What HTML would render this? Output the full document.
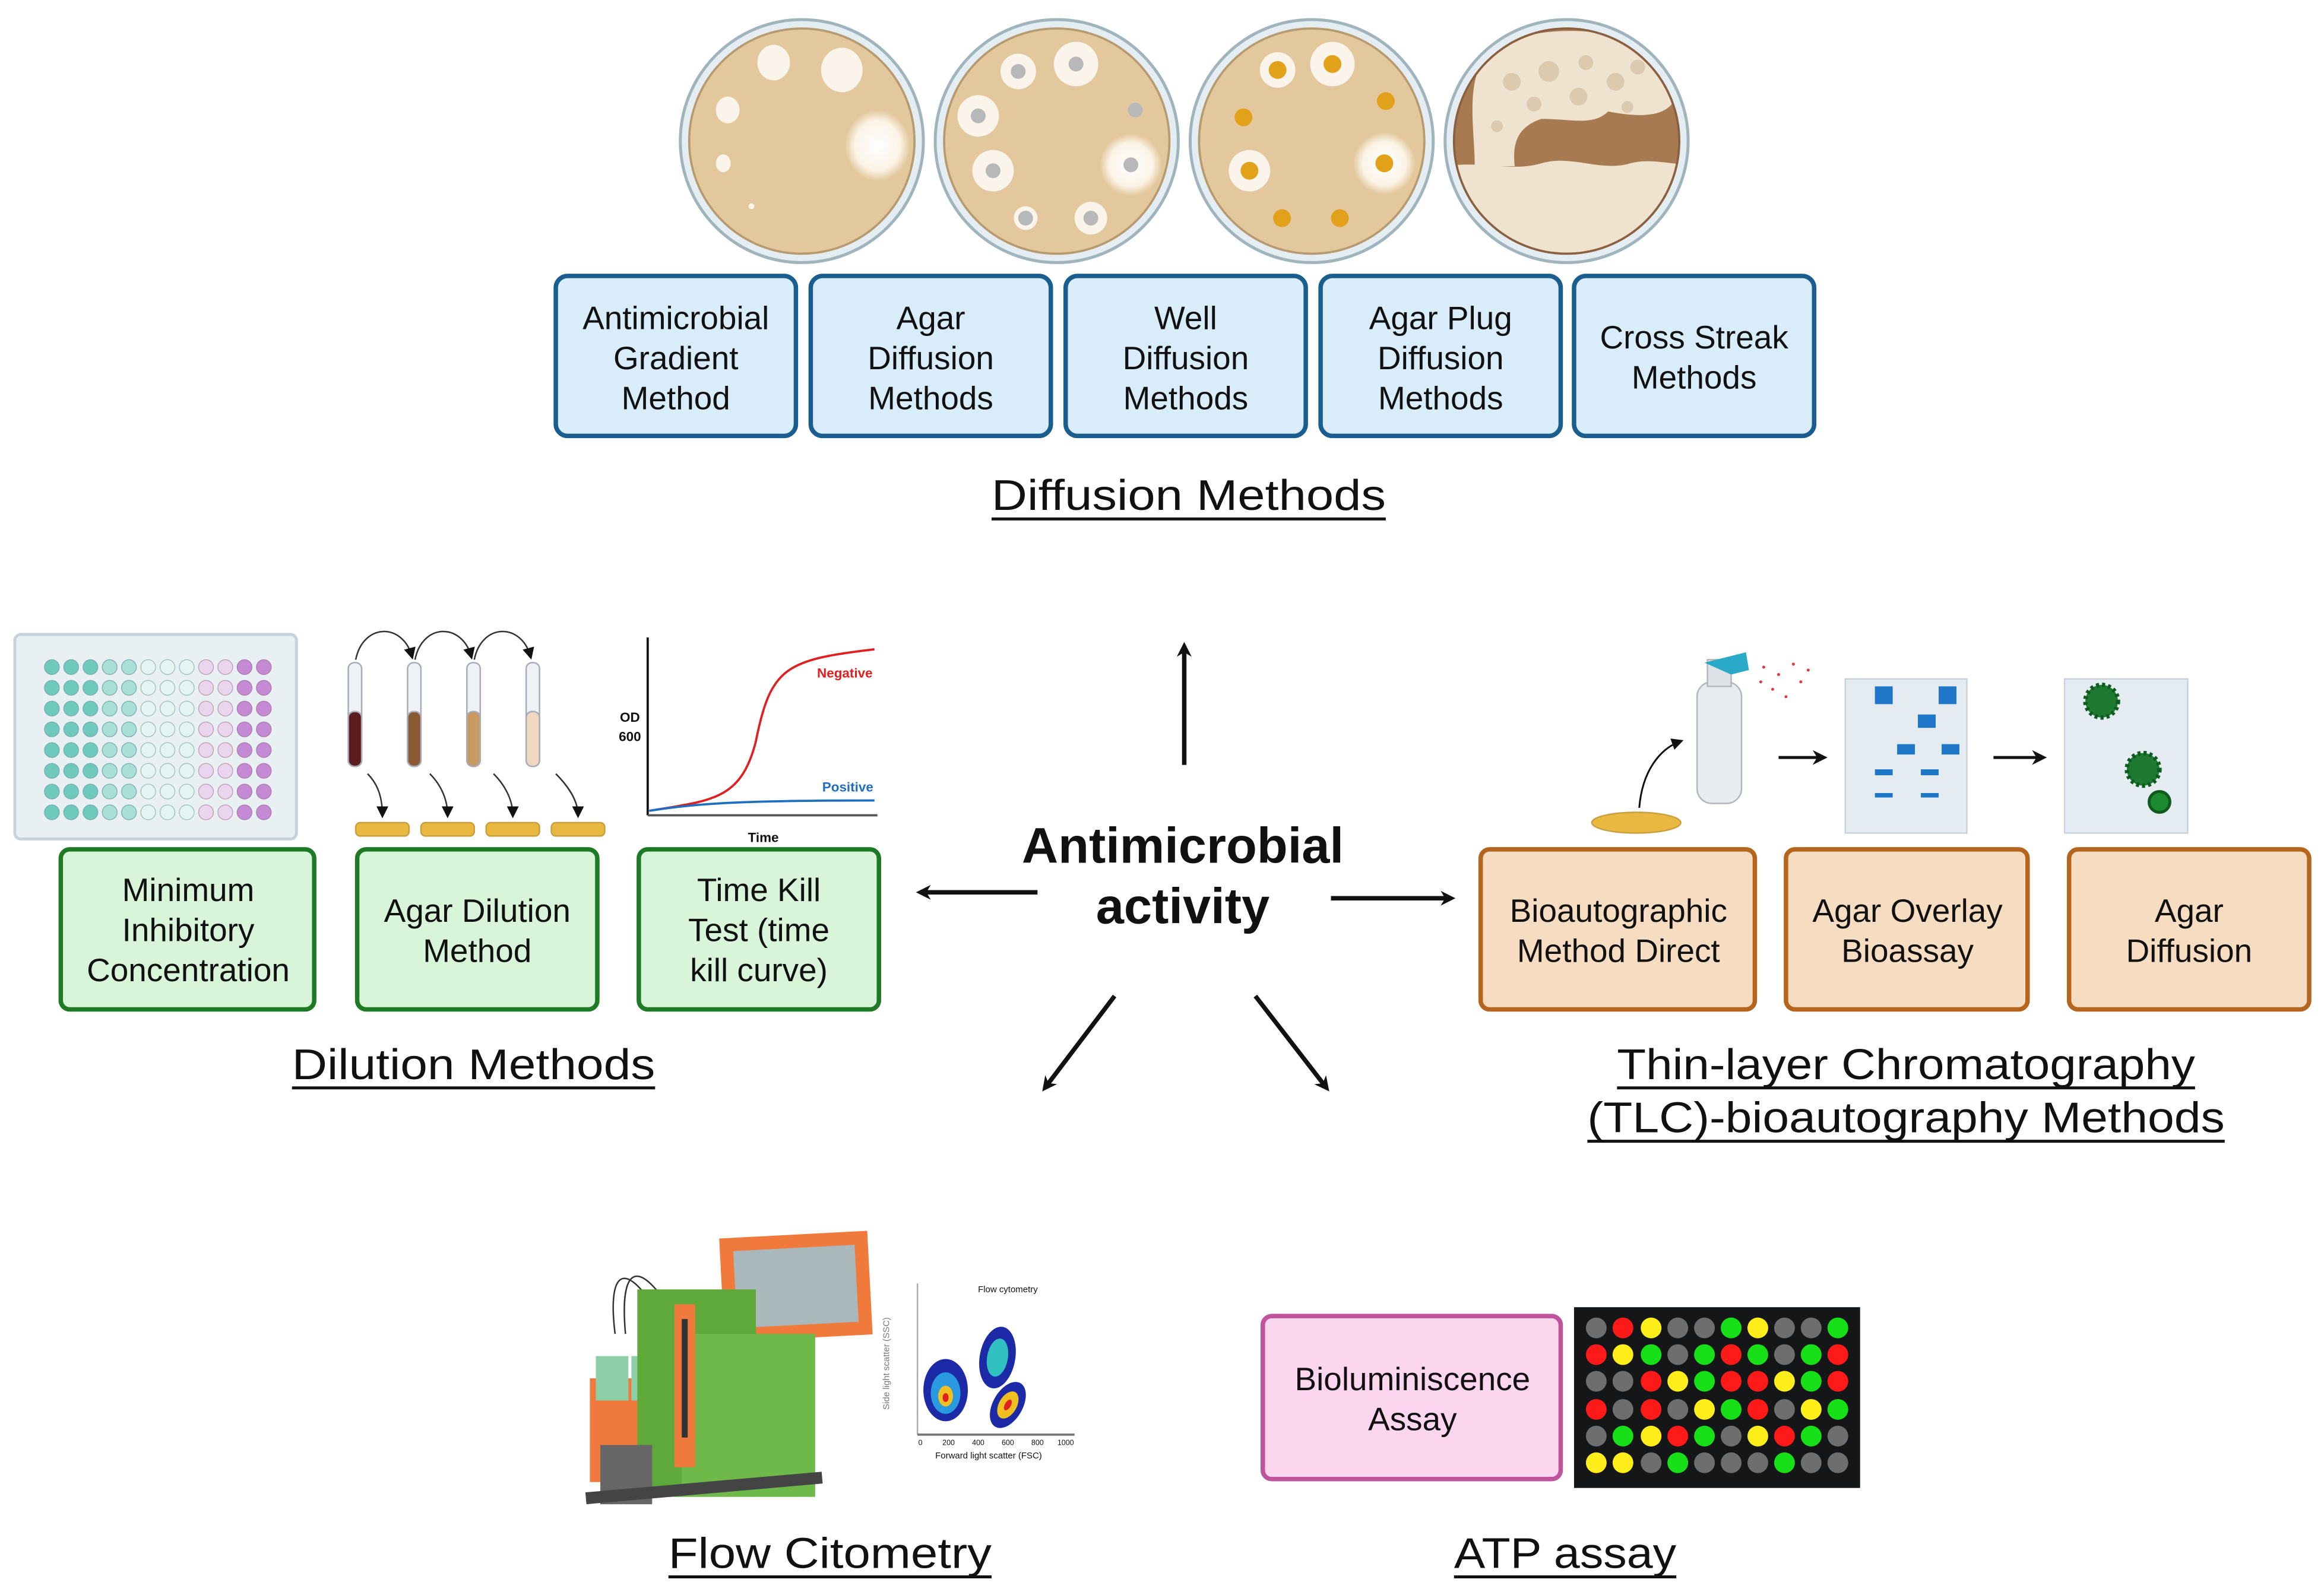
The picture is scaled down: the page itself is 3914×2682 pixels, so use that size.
<!DOCTYPE html>
<html><head><meta charset="utf-8"><style>
html,body{margin:0;padding:0;background:#fff;}
svg{display:block;}
text{font-family:"Liberation Sans",sans-serif;fill:#111;}
</style></head><body>
<svg width="3914" height="2682" viewBox="0 0 1568 1074" xmlns="http://www.w3.org/2000/svg">
<defs>
<marker id="ah" markerWidth="10" markerHeight="10" refX="7" refY="5" orient="auto" markerUnits="userSpaceOnUse"><path d="M0,0 L10,5 L0,10 L3,5 z" fill="#111"/></marker>
<marker id="ahs" markerWidth="8" markerHeight="8" refX="6" refY="4" orient="auto" markerUnits="userSpaceOnUse"><path d="M0,0 L8,4 L0,8 z" fill="#111"/></marker>
<radialGradient id="halo"><stop offset="0" stop-color="#fff"/><stop offset="0.7" stop-color="#fbf3e6"/><stop offset="1" stop-color="#e3c89d"/></radialGradient>
</defs>

<!-- Petri dishes -->
<g>
<circle cx="541" cy="95" r="82" fill="#e4eef2" stroke="#9fb4bd" stroke-width="2"/>
<circle cx="541" cy="95" r="76" fill="#e3c89d" stroke="#b89a70" stroke-width="1.5"/>
<ellipse cx="522" cy="42" rx="11" ry="12" fill="#fbf4ea"/><ellipse cx="568" cy="47" rx="14" ry="15" fill="#fbf4ea"/>
<ellipse cx="491" cy="74" rx="8" ry="9" fill="#fbf4ea"/><ellipse cx="592" cy="98" rx="22" ry="24" fill="url(#halo)"/>
<ellipse cx="488" cy="110" rx="5" ry="6" fill="#fbf4ea"/><circle cx="507" cy="139" r="2" fill="#fbf4ea"/>

<circle cx="713" cy="95" r="82" fill="#e4eef2" stroke="#9fb4bd" stroke-width="2"/>
<circle cx="713" cy="95" r="76" fill="#e3c89d" stroke="#b89a70" stroke-width="1.5"/>
<circle cx="687" cy="48" r="12" fill="#fbf4ea"/><circle cx="687" cy="48" r="5" fill="#b8b8b8"/>
<circle cx="726" cy="43" r="15" fill="#fbf4ea"/><circle cx="726" cy="43" r="5" fill="#b8b8b8"/>
<circle cx="660" cy="78" r="14" fill="#fbf4ea"/><circle cx="660" cy="78" r="5" fill="#b8b8b8"/>
<circle cx="766" cy="74" r="5" fill="#b8b8b8"/>
<circle cx="670" cy="115" r="14" fill="#fbf4ea"/><circle cx="670" cy="115" r="5" fill="#b8b8b8"/>
<circle cx="763" cy="111" r="21" fill="url(#halo)"/><circle cx="763" cy="111" r="5" fill="#b8b8b8"/>
<circle cx="692" cy="147" r="8" fill="#fbf4ea"/><circle cx="692" cy="147" r="5" fill="#b8b8b8"/>
<circle cx="736" cy="147" r="11" fill="#fbf4ea"/><circle cx="736" cy="147" r="5" fill="#b8b8b8"/>

<circle cx="885" cy="95" r="82" fill="#e4eef2" stroke="#9fb4bd" stroke-width="2"/>
<circle cx="885" cy="95" r="76" fill="#e3c89d" stroke="#b89a70" stroke-width="1.5"/>
<circle cx="862" cy="47" r="12" fill="#fbf4ea"/><circle cx="862" cy="47" r="6" fill="#e2a11a"/>
<circle cx="899" cy="43" r="15" fill="#fbf4ea"/><circle cx="899" cy="43" r="6" fill="#e2a11a"/>
<circle cx="935" cy="68" r="6" fill="#e2a11a"/><circle cx="839" cy="79" r="6" fill="#e2a11a"/>
<circle cx="843" cy="115" r="14" fill="#fbf4ea"/><circle cx="843" cy="115" r="6" fill="#e2a11a"/>
<circle cx="934" cy="110" r="21" fill="url(#halo)"/><circle cx="934" cy="110" r="6" fill="#e2a11a"/>
<circle cx="865" cy="147" r="6" fill="#e2a11a"/><circle cx="904" cy="147" r="6" fill="#e2a11a"/>

<circle cx="1057" cy="95" r="82" fill="#e4eef2" stroke="#9fb4bd" stroke-width="2"/>
<clipPath id="cd"><circle cx="1057" cy="95" r="76"/></clipPath>
<circle cx="1057" cy="95" r="76" fill="#a87a52"/>
<g clip-path="url(#cd)" fill="#efe3d0">
<path d="M975,112 C1000,108 1020,116 1040,110 C1060,104 1080,116 1100,110 C1115,106 1130,112 1140,110 L1140,180 L975,180 z"/>
<path d="M998,45 C1010,22 1050,18 1080,22 C1110,26 1130,45 1128,70 C1120,80 1100,78 1085,75 C1075,85 1060,80 1040,80 C1025,85 1020,95 1022,112 L995,112 C995,90 990,65 998,45 z"/>
</g>
<g fill="#dccab0"><circle cx="1020" cy="55" r="6"/><circle cx="1045" cy="48" r="7"/><circle cx="1070" cy="42" r="5"/><circle cx="1090" cy="55" r="6"/><circle cx="1105" cy="45" r="5"/><circle cx="1035" cy="70" r="5"/><circle cx="1065" cy="65" r="6"/><circle cx="1098" cy="72" r="4"/><circle cx="1010" cy="85" r="4"/></g>
<circle cx="1057" cy="95" r="76" fill="none" stroke="#8a6040" stroke-width="1.5"/>
</g>

<!-- Diffusion boxes -->
<g fill="#d9ecf9" stroke="#1a5d8f" stroke-width="3">
<rect x="375" y="186" width="162" height="108" rx="8"/><rect x="547" y="186" width="162" height="108" rx="8"/>
<rect x="719" y="186" width="162" height="108" rx="8"/><rect x="891" y="186" width="162" height="108" rx="8"/>
<rect x="1062" y="186" width="162" height="108" rx="8"/>
</g>
<g font-size="22" text-anchor="middle">
<text x="456" y="222">Antimicrobial</text><text x="456" y="249">Gradient</text><text x="456" y="276">Method</text>
<text x="628" y="222">Agar</text><text x="628" y="249">Diffusion</text><text x="628" y="276">Methods</text>
<text x="800" y="222">Well</text><text x="800" y="249">Diffusion</text><text x="800" y="276">Methods</text>
<text x="972" y="222">Agar Plug</text><text x="972" y="249">Diffusion</text><text x="972" y="276">Methods</text>
<text x="1143" y="235">Cross Streak</text><text x="1143" y="262">Methods</text>
</g>
<text x="669" y="344" font-size="29" textLength="266" lengthAdjust="spacingAndGlyphs">Diffusion Methods</text>
<line x1="669" y1="350" x2="935" y2="350" stroke="#111" stroke-width="2"/>

<!-- well plate -->
<rect x="10" y="428" width="190" height="138" rx="4" fill="#e8f0f4" stroke="#c5d3da" stroke-width="2"/>
<g fill="#6fcabd" stroke="#7aa" stroke-width="0.5">
<circle cx="35" cy="450" r="5"/><circle cx="35" cy="464" r="5"/><circle cx="35" cy="478" r="5"/><circle cx="35" cy="492" r="5"/><circle cx="35" cy="506" r="5"/><circle cx="35" cy="520" r="5"/><circle cx="35" cy="534" r="5"/><circle cx="35" cy="548" r="5"/>
<circle cx="48" cy="450" r="5"/><circle cx="48" cy="464" r="5"/><circle cx="48" cy="478" r="5"/><circle cx="48" cy="492" r="5"/><circle cx="48" cy="506" r="5"/><circle cx="48" cy="520" r="5"/><circle cx="48" cy="534" r="5"/><circle cx="48" cy="548" r="5"/>
<circle cx="61" cy="450" r="5"/><circle cx="61" cy="464" r="5"/><circle cx="61" cy="478" r="5"/><circle cx="61" cy="492" r="5"/><circle cx="61" cy="506" r="5"/><circle cx="61" cy="520" r="5"/><circle cx="61" cy="534" r="5"/><circle cx="61" cy="548" r="5"/>
</g>
<g fill="#a8e0d8" stroke="#7aa" stroke-width="0.5">
<circle cx="74" cy="450" r="5"/><circle cx="74" cy="464" r="5"/><circle cx="74" cy="478" r="5"/><circle cx="74" cy="492" r="5"/><circle cx="74" cy="506" r="5"/><circle cx="74" cy="520" r="5"/><circle cx="74" cy="534" r="5"/><circle cx="74" cy="548" r="5"/>
<circle cx="87" cy="450" r="5"/><circle cx="87" cy="464" r="5"/><circle cx="87" cy="478" r="5"/><circle cx="87" cy="492" r="5"/><circle cx="87" cy="506" r="5"/><circle cx="87" cy="520" r="5"/><circle cx="87" cy="534" r="5"/><circle cx="87" cy="548" r="5"/>
</g>
<g fill="#e4f4f2" stroke="#9bb" stroke-width="0.5">
<circle cx="100" cy="450" r="5"/><circle cx="100" cy="464" r="5"/><circle cx="100" cy="478" r="5"/><circle cx="100" cy="492" r="5"/><circle cx="100" cy="506" r="5"/><circle cx="100" cy="520" r="5"/><circle cx="100" cy="534" r="5"/><circle cx="100" cy="548" r="5"/>
<circle cx="113" cy="450" r="5"/><circle cx="113" cy="464" r="5"/><circle cx="113" cy="478" r="5"/><circle cx="113" cy="492" r="5"/><circle cx="113" cy="506" r="5"/><circle cx="113" cy="520" r="5"/><circle cx="113" cy="534" r="5"/><circle cx="113" cy="548" r="5"/>
<circle cx="126" cy="450" r="5"/><circle cx="126" cy="464" r="5"/><circle cx="126" cy="478" r="5"/><circle cx="126" cy="492" r="5"/><circle cx="126" cy="506" r="5"/><circle cx="126" cy="520" r="5"/><circle cx="126" cy="534" r="5"/><circle cx="126" cy="548" r="5"/>
</g>
<g fill="#ead4ee" stroke="#b9a" stroke-width="0.5">
<circle cx="139" cy="450" r="5"/><circle cx="139" cy="464" r="5"/><circle cx="139" cy="478" r="5"/><circle cx="139" cy="492" r="5"/><circle cx="139" cy="506" r="5"/><circle cx="139" cy="520" r="5"/><circle cx="139" cy="534" r="5"/><circle cx="139" cy="548" r="5"/>
<circle cx="152" cy="450" r="5"/><circle cx="152" cy="464" r="5"/><circle cx="152" cy="478" r="5"/><circle cx="152" cy="492" r="5"/><circle cx="152" cy="506" r="5"/><circle cx="152" cy="520" r="5"/><circle cx="152" cy="534" r="5"/><circle cx="152" cy="548" r="5"/>
</g>
<g fill="#c58ad4" stroke="#a7a" stroke-width="0.5">
<circle cx="165" cy="450" r="5"/><circle cx="165" cy="464" r="5"/><circle cx="165" cy="478" r="5"/><circle cx="165" cy="492" r="5"/><circle cx="165" cy="506" r="5"/><circle cx="165" cy="520" r="5"/><circle cx="165" cy="534" r="5"/><circle cx="165" cy="548" r="5"/>
<circle cx="178" cy="450" r="5"/><circle cx="178" cy="464" r="5"/><circle cx="178" cy="478" r="5"/><circle cx="178" cy="492" r="5"/><circle cx="178" cy="506" r="5"/><circle cx="178" cy="520" r="5"/><circle cx="178" cy="534" r="5"/><circle cx="178" cy="548" r="5"/>
</g>

<!-- tubes -->
<g stroke="#aab" stroke-width="1">
<rect x="235" y="447" width="9" height="70" rx="4" fill="#eef2f4"/><rect x="235" y="480" width="9" height="37" rx="4" fill="#5a1c1c"/>
<rect x="275" y="447" width="9" height="70" rx="4" fill="#eef2f4"/><rect x="275" y="480" width="9" height="37" rx="4" fill="#8a5a32"/>
<rect x="315" y="447" width="9" height="70" rx="4" fill="#eef2f4"/><rect x="315" y="480" width="9" height="37" rx="4" fill="#c79a62"/>
<rect x="355" y="447" width="9" height="70" rx="4" fill="#eef2f4"/><rect x="355" y="480" width="9" height="37" rx="4" fill="#f0d8c0"/>
</g>
<g fill="none" stroke="#333" stroke-width="1">
<path d="M240,445 C245,420 272,420 278,443" marker-end="url(#ahs)"/><path d="M280,445 C285,420 312,420 318,443" marker-end="url(#ahs)"/><path d="M320,445 C325,420 352,420 358,443" marker-end="url(#ahs)"/>
<path d="M248,522 C256,530 258,540 258,550" marker-end="url(#ahs)"/><path d="M290,522 C298,530 302,540 302,550" marker-end="url(#ahs)"/><path d="M333,522 C341,530 346,540 346,550" marker-end="url(#ahs)"/><path d="M375,522 C383,530 390,540 390,550" marker-end="url(#ahs)"/>
</g>
<g fill="#e8b840" stroke="#c9a040" stroke-width="1">
<rect x="240" y="555" width="36" height="9" rx="3"/><rect x="284" y="555" width="36" height="9" rx="3"/><rect x="328" y="555" width="36" height="9" rx="3"/><rect x="372" y="555" width="36" height="9" rx="3"/>
</g>

<!-- time kill chart -->
<line x1="437" y1="430" x2="437" y2="550" stroke="#111" stroke-width="1.5"/>
<line x1="437" y1="550" x2="592" y2="550" stroke="#555" stroke-width="1.5"/>
<path d="M438,547 C480,540 500,540 510,500 C520,450 530,445 590,438" fill="none" stroke="#e02020" stroke-width="1.5"/>
<path d="M438,547 C470,542 500,540 590,540" fill="none" stroke="#1f6fc0" stroke-width="1.5"/>
<text x="570" y="457" font-size="9" text-anchor="middle" font-weight="bold" style="fill:#e02020">Negative</text>
<text x="572" y="534" font-size="9" text-anchor="middle" font-weight="bold" style="fill:#1f6fc0">Positive</text>
<text x="425" y="487" font-size="9" text-anchor="middle" font-weight="bold">OD</text>
<text x="425" y="500" font-size="9" text-anchor="middle" font-weight="bold">600</text>
<text x="515" y="568" font-size="9" text-anchor="middle" font-weight="bold">Time</text>

<!-- Dilution boxes -->
<g fill="#d8f5da" stroke="#1e7a25" stroke-width="3">
<rect x="41" y="573" width="171" height="108" rx="6"/><rect x="241" y="573" width="162" height="108" rx="6"/><rect x="431" y="573" width="162" height="108" rx="6"/>
</g>
<g font-size="22" text-anchor="middle">
<text x="127" y="608">Minimum</text><text x="127" y="635">Inhibitory</text><text x="127" y="662">Concentration</text>
<text x="322" y="622">Agar Dilution</text><text x="322" y="649">Method</text>
<text x="512" y="608">Time Kill</text><text x="512" y="635">Test (time</text><text x="512" y="662">kill curve)</text>
</g>
<text x="197" y="728" font-size="29" textLength="245" lengthAdjust="spacingAndGlyphs">Dilution Methods</text>
<line x1="197" y1="734" x2="442" y2="734" stroke="#111" stroke-width="2"/>

<!-- TLC images -->
<rect x="1145" y="460" width="30" height="82" rx="10" fill="#e8ecee" stroke="#b0b8bc"/>
<rect x="1152" y="445" width="16" height="18" fill="#dde3e6" stroke="#b0b8bc"/>
<path d="M1150,447 L1178,440 L1180,452 L1168,455" fill="#2aa8c8"/>
<g fill="#e03a3a"><circle cx="1190" cy="450" r="1"/><circle cx="1200" cy="455" r="1"/><circle cx="1210" cy="448" r="1"/><circle cx="1196" cy="465" r="1"/><circle cx="1215" cy="460" r="1"/><circle cx="1205" cy="470" r="1"/><circle cx="1220" cy="452" r="1"/><circle cx="1188" cy="460" r="1"/></g>
<path d="M1106,545 C1108,520 1120,505 1134,500" fill="none" stroke="#111" stroke-width="1.2" marker-end="url(#ahs)"/>
<ellipse cx="1104" cy="555" rx="30" ry="7" fill="#e8b840" stroke="#c9a040"/>
<line x1="1200" y1="511" x2="1230" y2="511" stroke="#111" stroke-width="2" marker-end="url(#ah)"/>
<line x1="1345" y1="511" x2="1378" y2="511" stroke="#111" stroke-width="2" marker-end="url(#ah)"/>
<rect x="1245" y="458" width="82" height="104" fill="#e4ecf2" stroke="#c6d2dc"/>
<g fill="#1f77c8"><rect x="1265" y="463" width="12" height="12"/><rect x="1308" y="463" width="12" height="12"/><rect x="1294" y="482" width="12" height="9"/><rect x="1280" y="502" width="12" height="7"/><rect x="1310" y="502" width="12" height="7"/><rect x="1265" y="519" width="12" height="4"/><rect x="1296" y="519" width="12" height="4"/><rect x="1265" y="535" width="12" height="3"/><rect x="1296" y="535" width="12" height="3"/></g>
<rect x="1393" y="458" width="83" height="104" fill="#e4ecf2" stroke="#c6d2dc"/>
<circle cx="1418" cy="473" r="11" fill="#1e7a30" stroke="#0f5a1f" stroke-width="3" stroke-dasharray="2 2"/>
<circle cx="1446" cy="519" r="11" fill="#1e7a30" stroke="#0f5a1f" stroke-width="3" stroke-dasharray="2 2"/>
<circle cx="1457" cy="541" r="7" fill="#1e8a30" stroke="#0f5a1f" stroke-width="2"/>

<!-- TLC boxes -->
<g fill="#f6dcc0" stroke="#b5651d" stroke-width="3">
<rect x="999" y="573" width="185" height="108" rx="6"/><rect x="1205" y="573" width="163" height="108" rx="6"/><rect x="1396" y="573" width="162" height="108" rx="6"/>
</g>
<g font-size="22" text-anchor="middle">
<text x="1092" y="622">Bioautographic</text><text x="1092" y="649">Method Direct</text>
<text x="1287" y="622">Agar Overlay</text><text x="1287" y="649">Bioassay</text>
<text x="1477" y="622">Agar</text><text x="1477" y="649">Diffusion</text>
</g>
<text x="1091" y="728" font-size="29" textLength="390" lengthAdjust="spacingAndGlyphs">Thin-layer Chromatography</text>
<line x1="1091" y1="734" x2="1481" y2="734" stroke="#111" stroke-width="2"/>
<text x="1071" y="764" font-size="29" textLength="430" lengthAdjust="spacingAndGlyphs">(TLC)-bioautography Methods</text>
<line x1="1071" y1="770" x2="1501" y2="770" stroke="#111" stroke-width="2"/>

<!-- Center -->
<text x="798" y="582" font-size="34" font-weight="bold" text-anchor="middle">Antimicrobial</text>
<text x="798" y="623" font-size="34" font-weight="bold" text-anchor="middle">activity</text>
<g stroke="#111" stroke-width="3" fill="none">
<line x1="799" y1="516" x2="799" y2="436" marker-end="url(#ah)"/>
<line x1="700" y1="602" x2="621" y2="602" marker-end="url(#ah)"/>
<line x1="898" y1="606" x2="979" y2="606" marker-end="url(#ah)"/>
<line x1="752" y1="672" x2="705" y2="734" marker-end="url(#ah)"/>
<line x1="847" y1="672" x2="895" y2="734" marker-end="url(#ah)"/>
</g>

<!-- Flow cytometer -->
<g>
<rect x="487" y="833" width="100" height="70" fill="#f07a3c" transform="rotate(-3 537 868)"/>
<rect x="496" y="842" width="82" height="52" fill="#aab8bc" transform="rotate(-3 537 868)"/>
<path d="M415,900 C410,860 420,850 440,880" fill="none" stroke="#333"/>
<path d="M422,900 C418,855 430,850 450,880" fill="none" stroke="#333"/>
<rect x="398" y="930" width="50" height="70" fill="#f07a3c"/>
<rect x="402" y="915" width="22" height="30" fill="#8fcfa8"/>
<rect x="426" y="915" width="22" height="30" fill="#8fcfa8"/>
<rect x="430" y="870" width="80" height="140" fill="#5fa83a"/>
<rect x="460" y="900" width="90" height="110" fill="#6fb84a"/>
<rect x="455" y="880" width="14" height="110" fill="#f07a3c"/>
<rect x="460" y="890" width="4" height="80" fill="#333"/>
<rect x="405" y="975" width="35" height="40" fill="#666"/>
<rect x="395" y="1000" width="160" height="8" fill="#444" transform="rotate(-5 475 1004)"/>
</g>
<!-- FC plot -->
<line x1="619" y1="866" x2="619" y2="968" stroke="#aaa"/>
<line x1="619" y1="968" x2="725" y2="968" stroke="#777" stroke-width="1.5"/>
<text x="680" y="872" font-size="6" text-anchor="middle">Flow cytometry</text>
<text x="667" y="984" font-size="6" text-anchor="middle">Forward light scatter (FSC)</text>
<text x="0" y="0" font-size="6" text-anchor="middle" transform="translate(600 920) rotate(-90)" style="fill:#777">Side light scatter (SSC)</text>
<g font-size="5" text-anchor="middle"><text x="621" y="975">0</text><text x="640" y="975">200</text><text x="660" y="975">400</text><text x="680" y="975">600</text><text x="700" y="975">800</text><text x="719" y="975">1000</text></g>
<ellipse cx="638" cy="938" rx="15" ry="21" fill="#1c2aa8"/><ellipse cx="638" cy="940" rx="10" ry="14" fill="#2a9ae0"/><ellipse cx="638" cy="942" rx="5" ry="7" fill="#f0c020"/><ellipse cx="638" cy="943" rx="2" ry="3" fill="#e02020"/>
<ellipse cx="673" cy="916" rx="12" ry="21" fill="#1c2aa8" transform="rotate(10 673 916)"/><ellipse cx="673" cy="916" rx="7" ry="13" fill="#30c0c0" transform="rotate(10 673 916)"/>
<ellipse cx="680" cy="948" rx="10" ry="17" fill="#1c2aa8" transform="rotate(30 680 948)"/><ellipse cx="680" cy="948" rx="6" ry="10" fill="#f0c020" transform="rotate(30 680 948)"/><ellipse cx="680" cy="948" rx="2" ry="4" fill="#e02020" transform="rotate(30 680 948)"/>
<text x="451" y="1058" font-size="29" textLength="218" lengthAdjust="spacingAndGlyphs">Flow Citometry</text>
<line x1="451" y1="1064" x2="669" y2="1064" stroke="#111" stroke-width="2"/>

<!-- ATP -->
<rect x="852" y="888" width="201" height="110" rx="6" fill="#fbd6ee" stroke="#c0549c" stroke-width="3"/>
<text x="953" y="938" font-size="22" text-anchor="middle">Bioluminiscence</text>
<text x="953" y="965" font-size="22" text-anchor="middle">Assay</text>
<rect x="1062" y="882" width="193" height="122" fill="#141618"/>
<g fill="#6e6e6e">
<circle cx="1077" cy="896" r="7"/><circle cx="1132" cy="896" r="7"/><circle cx="1150" cy="896" r="7"/><circle cx="1204" cy="896" r="7"/><circle cx="1222" cy="896" r="7"/>
<circle cx="1132" cy="914" r="7"/><circle cx="1204" cy="914" r="7"/>
<circle cx="1077" cy="932" r="7"/><circle cx="1095" cy="932" r="7"/>
<circle cx="1095" cy="951" r="7"/><circle cx="1132" cy="951" r="7"/><circle cx="1204" cy="951" r="7"/>
<circle cx="1077" cy="969" r="7"/><circle cx="1168" cy="969" r="7"/><circle cx="1240" cy="969" r="7"/>
<circle cx="1114" cy="987" r="7"/><circle cx="1150" cy="987" r="7"/><circle cx="1168" cy="987" r="7"/><circle cx="1186" cy="987" r="7"/><circle cx="1222" cy="987" r="7"/><circle cx="1240" cy="987" r="7"/>
</g>
<g fill="#ff1a1a">
<circle cx="1095" cy="896" r="7"/>
<circle cx="1077" cy="914" r="7"/><circle cx="1168" cy="914" r="7"/><circle cx="1240" cy="914" r="7"/>
<circle cx="1114" cy="932" r="7"/><circle cx="1168" cy="932" r="7"/><circle cx="1186" cy="932" r="7"/><circle cx="1240" cy="932" r="7"/>
<circle cx="1077" cy="951" r="7"/><circle cx="1114" cy="951" r="7"/><circle cx="1186" cy="951" r="7"/>
<circle cx="1132" cy="969" r="7"/><circle cx="1204" cy="969" r="7"/>
</g>
<g fill="#ffee1a">
<circle cx="1114" cy="896" r="7"/><circle cx="1186" cy="896" r="7"/>
<circle cx="1095" cy="914" r="7"/>
<circle cx="1132" cy="932" r="7"/><circle cx="1204" cy="932" r="7"/>
<circle cx="1150" cy="951" r="7"/><circle cx="1222" cy="951" r="7"/>
<circle cx="1114" cy="969" r="7"/><circle cx="1186" cy="969" r="7"/>
<circle cx="1077" cy="987" r="7"/><circle cx="1095" cy="987" r="7"/>
</g>
<g fill="#18e018">
<circle cx="1168" cy="896" r="7"/><circle cx="1240" cy="896" r="7"/>
<circle cx="1114" cy="914" r="7"/><circle cx="1150" cy="914" r="7"/><circle cx="1186" cy="914" r="7"/><circle cx="1222" cy="914" r="7"/>
<circle cx="1150" cy="932" r="7"/><circle cx="1222" cy="932" r="7"/>
<circle cx="1168" cy="951" r="7"/><circle cx="1240" cy="951" r="7"/>
<circle cx="1095" cy="969" r="7"/><circle cx="1150" cy="969" r="7"/><circle cx="1222" cy="969" r="7"/>
<circle cx="1132" cy="987" r="7"/><circle cx="1204" cy="987" r="7"/>
</g>
<text x="981" y="1058" font-size="29" textLength="150" lengthAdjust="spacingAndGlyphs">ATP assay</text>
<line x1="981" y1="1064" x2="1131" y2="1064" stroke="#111" stroke-width="2"/>
</svg>
</body></html>
